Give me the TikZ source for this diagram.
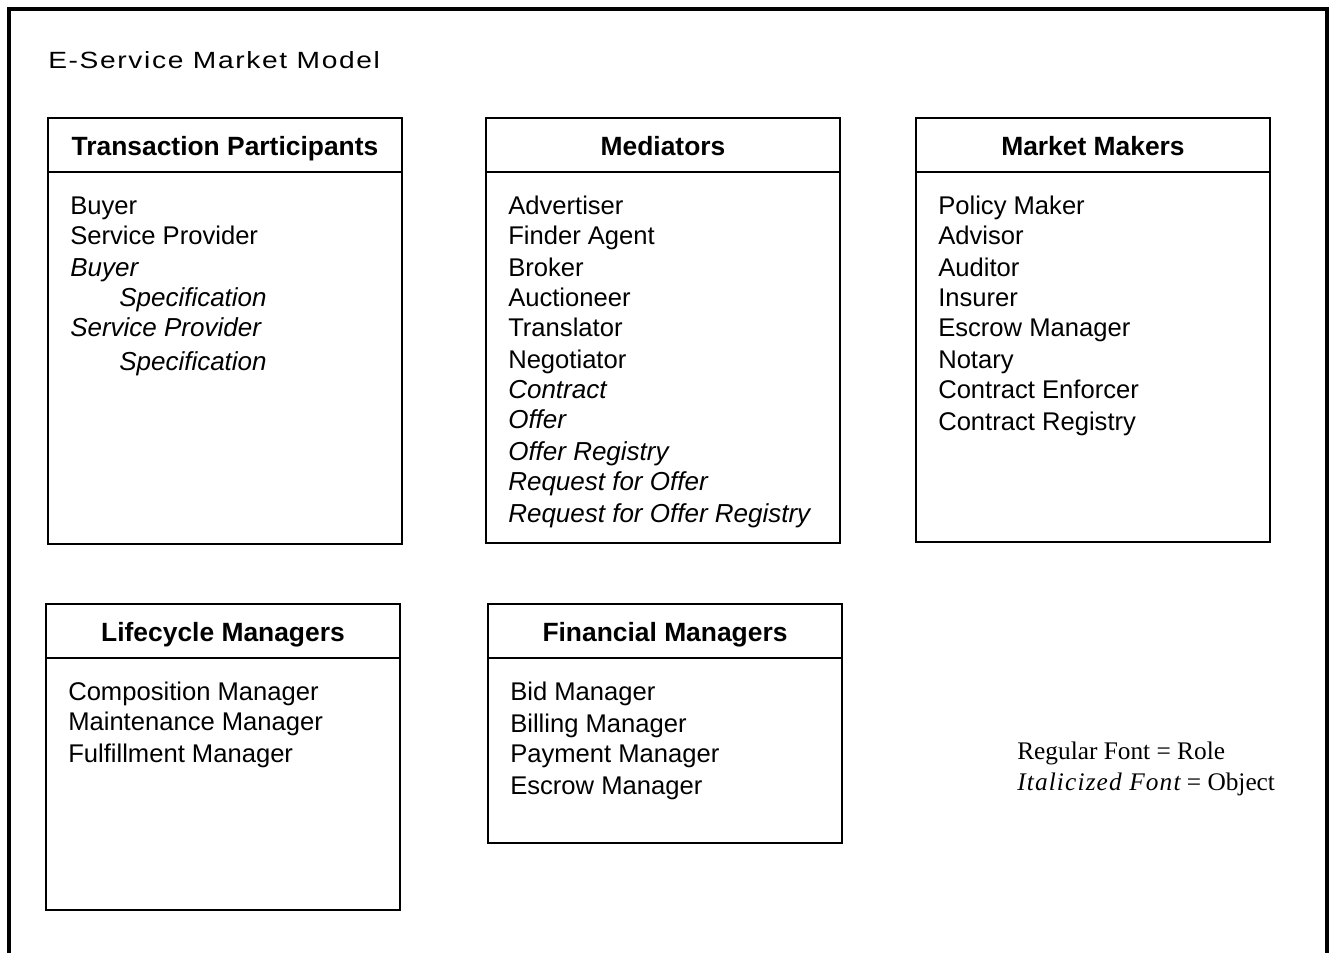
\documentclass[tikz,border=0pt]{standalone}
\usepackage{fontspec}
\setmainfont{Liberation Sans}
\newfontfamily\legendfont{Liberation Serif}
\newfontfamily\legenditfont[LetterSpace=4.5]{Liberation Serif Italic}
\newfontfamily\titlefont[FakeStretch=1.2, LetterSpace=7]{Liberation Sans}
\usetikzlibrary{positioning}

\begin{document}
\begin{tikzpicture}[
    x=0.75pt, y=-0.75pt,
    frame/.style={line width=2.4pt},
    boxline/.style={line width=1.3pt},
    head/.style={anchor=base, inner sep=0pt, font=\fontsize{19.8}{22}\selectfont\bfseries},
    item/.style={anchor=base west, inner sep=0pt, font=\fontsize{19.2}{22}\selectfont},
    obj/.style={item, font=\fontsize{19.5}{22}\selectfont\itshape},
    legend/.style={anchor=base west, inner sep=0pt, font=\legendfont\fontsize{19}{22}\selectfont},
]
\useasboundingbox (0,0) rectangle (1332,953);

% Outer frame, open at the bottom
\draw[frame] (9,953) -- (9,9) -- (1327,9) -- (1327,953);

% Title
\node[anchor=base west, inner sep=0pt, font=\titlefont\fontsize{17.6}{20}\selectfont] (title) at (48,68) {E-Service Market Model};

% Boxes: name / left / top / right / bottom / title
\foreach \bx/\xa/\ya/\xb/\yb/\ttl in {
    tp/48/118/402/544/Transaction Participants,
    med/486/118/840/543/Mediators,
    mm/916/118/1270/542/Market Makers,
    lm/46/604/400/910/Lifecycle Managers,
    fm/488/604/842/843/Financial Managers} {
    \draw[boxline] (\xa,\ya) rectangle (\xb,\yb);
    \draw[boxline] (\xa,\ya+54) -- (\xb,\ya+54);
    \node[head] (\bx-head) at ({(\xa+\xb)/2},\ya+37) {\ttl};
}

% Transaction Participants
\foreach \i/\y/\t in {1/214/Buyer, 2/244/Service Provider} {
    \node[item] (tp-\i) at (70,\y) {\t};
}
\foreach \i/\x/\y/\t in {3/70/276/Buyer, 4/119/306/Specification, 5/70/336/Service Provider, 6/119/370/Specification} {
    \node[obj] (tp-\i) at (\x,\y) {\t};
}

% Mediators
\foreach \i/\y/\t in {1/214/Advertiser, 2/244/Finder Agent, 3/276/Broker, 4/306/Auctioneer, 5/336/Translator, 6/368/Negotiator} {
    \node[item] (med-\i) at (508,\y) {\t};
}
\foreach \i/\y/\t in {7/398/Contract, 8/428/Offer, 9/460/Offer Registry, 10/490/Request for Offer, 11/522/Request for Offer Registry} {
    \node[obj] (med-\i) at (508,\y) {\t};
}

% Market Makers
\foreach \i/\y/\t in {1/214/Policy Maker, 2/244/Advisor, 3/276/Auditor, 4/306/Insurer, 5/336/Escrow Manager, 6/368/Notary, 7/398/Contract Enforcer, 8/430/Contract Registry} {
    \node[item] (mm-\i) at (938,\y) {\t};
}

% Lifecycle Managers
\foreach \i/\y/\t in {1/700/Composition Manager, 2/730/Maintenance Manager, 3/762/Fulfillment Manager} {
    \node[item] (lm-\i) at (68,\y) {\t};
}

% Financial Managers
\foreach \i/\y/\t in {1/700/Bid Manager, 2/732/Billing Manager, 3/762/Payment Manager, 4/794/Escrow Manager} {
    \node[item] (fm-\i) at (510,\y) {\t};
}

% Legend
\node[legend] (legend-role) at (1017,759) {Regular Font = Role};
\node[legend] (legend-obj) at (1017,790) {{\legenditfont Italicized Font} = Object};

\end{tikzpicture}
\end{document}
